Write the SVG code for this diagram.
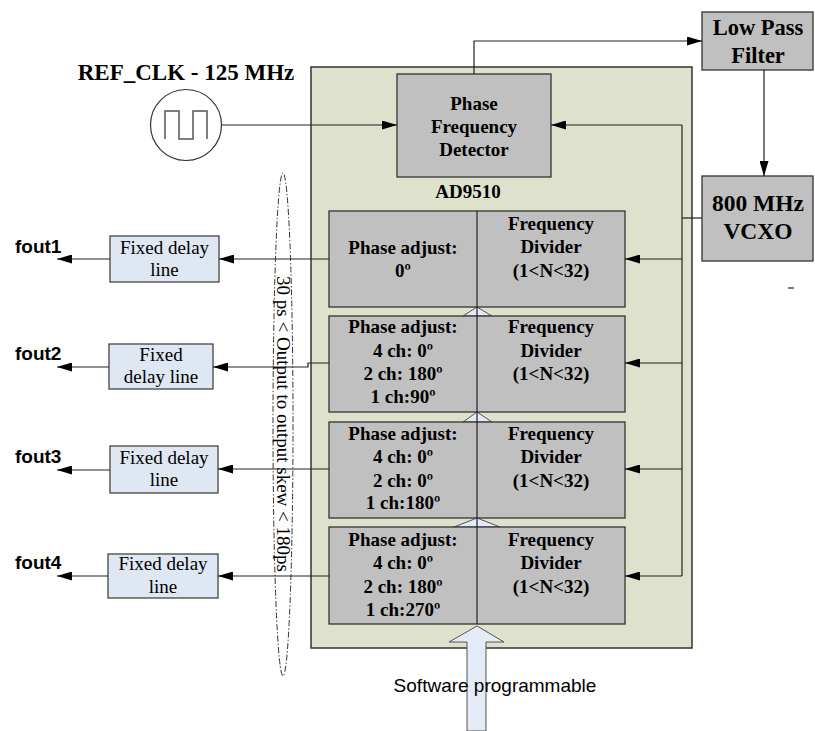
<svg xmlns="http://www.w3.org/2000/svg" width="815" height="731" viewBox="0 0 815 731">
<defs>
<marker id="ah" viewBox="0 0 15 9" refX="15" refY="4.5" markerWidth="15" markerHeight="9" orient="auto" markerUnits="userSpaceOnUse"><path d="M0,0 L15,4.5 L0,9 z" fill="#000"/></marker>
<style>
.gray{fill:#c0c0c0;stroke:#333;stroke-width:1.3}
.fdl{fill:#dfe7f3;stroke:#444;stroke-width:1.3}
.ln{fill:none;stroke:#222;stroke-width:1.2}
.arr{fill:none;stroke:#222;stroke-width:1.2;marker-end:url(#ah)}
.bs{font-family:"Liberation Serif","Times New Roman",serif;font-weight:bold;text-anchor:middle;fill:#000}
.rs{font-family:"Liberation Serif","Times New Roman",serif;text-anchor:middle;fill:#000}
.sans{font-family:"Liberation Sans",Arial,sans-serif;fill:#000}
.tri{fill:#e4ebf6;stroke:#555;stroke-width:1}
</style>
</defs>
<rect width="815" height="731" fill="#fff"/>

<g id="ad9510">
<rect x="311" y="67" width="381" height="581" fill="#dee1cb" stroke="#333" stroke-width="1.5"/>
<text class="bs" x="468" y="198" font-size="19">AD9510</text>
</g>

<g id="sw-arrow">
<polygon class="tri" points="467,731 467,642 449,642 477,626 504,642 486,642 486,731"/>
<polygon class="tri" points="463,316 477,307 492,316"/>
<polygon class="tri" points="463,422 477,412 492,422"/>
<polygon class="tri" points="454,527 477,518 500,527"/>
<text class="sans" x="495" y="692" font-size="19" text-anchor="middle">Software programmable</text>
</g>

<g id="refclk">
<text class="bs" x="186" y="80" font-size="23">REF_CLK - 125 MHz</text>
<circle cx="186" cy="125" r="35.5" fill="#fff" stroke="#333" stroke-width="1.2"/>
<path d="M165,139 V111 H179 V139 H193 V111 H207 V139" fill="none" stroke="#555" stroke-width="1.5"/>
</g>

<g id="pfd">
<rect class="gray" x="397" y="74" width="154" height="103"/>
<text class="bs" x="474" y="110" font-size="19">Phase</text>
<text class="bs" x="474" y="133" font-size="19">Frequency</text>
<text class="bs" x="474" y="156" font-size="19">Detector</text>
</g>

<g id="lpf">
<rect class="gray" x="702" y="12" width="111" height="58"/>
<text class="bs" x="758" y="35" font-size="22.5">Low Pass</text>
<text class="bs" x="758" y="63" font-size="22.5">Filter</text>
</g>

<g id="vcxo">
<rect class="gray" x="702" y="176" width="111" height="85"/>
<text class="bs" x="758" y="211" font-size="23.5">800 MHz</text>
<text class="bs" x="758" y="239" font-size="23.5">VCXO</text>
</g>

<g id="ch1">
<rect class="gray" x="329" y="211" width="296" height="96"/>
<text class="bs" x="403" y="254" font-size="19">Phase adjust:</text>
<text class="bs" x="403" y="277" font-size="19">0º</text>
<text class="bs" x="551" y="230" font-size="19">Frequency</text>
<text class="bs" x="551" y="253" font-size="19">Divider</text>
<text class="bs" x="551" y="277" font-size="19">(1&lt;N&lt;32)</text>
</g>
<g id="ch2">
<rect class="gray" x="329" y="316" width="296" height="96"/>
<text class="bs" x="403" y="333" font-size="19">Phase adjust:</text>
<text class="bs" x="403" y="357" font-size="19">4 ch: 0º</text>
<text class="bs" x="403" y="380" font-size="19">2 ch: 180º</text>
<text class="bs" x="403" y="403" font-size="19">1 ch:90º</text>
<text class="bs" x="551" y="333" font-size="19">Frequency</text>
<text class="bs" x="551" y="357" font-size="19">Divider</text>
<text class="bs" x="551" y="380" font-size="19">(1&lt;N&lt;32)</text>
</g>
<g id="ch3">
<rect class="gray" x="329" y="422" width="296" height="96"/>
<text class="bs" x="403" y="440" font-size="19">Phase adjust:</text>
<text class="bs" x="403" y="463" font-size="19">4 ch: 0º</text>
<text class="bs" x="403" y="487" font-size="19">2 ch: 0º</text>
<text class="bs" x="403" y="509" font-size="19">1 ch:180º</text>
<text class="bs" x="551" y="440" font-size="19">Frequency</text>
<text class="bs" x="551" y="463" font-size="19">Divider</text>
<text class="bs" x="551" y="487" font-size="19">(1&lt;N&lt;32)</text>
</g>
<g id="ch4">
<rect class="gray" x="329" y="527" width="296" height="97"/>
<text class="bs" x="403" y="546" font-size="19">Phase adjust:</text>
<text class="bs" x="403" y="569" font-size="19">4 ch: 0º</text>
<text class="bs" x="403" y="593" font-size="19">2 ch: 180º</text>
<text class="bs" x="403" y="616" font-size="19">1 ch:270º</text>
<text class="bs" x="551" y="546" font-size="19">Frequency</text>
<text class="bs" x="551" y="569" font-size="19">Divider</text>
<text class="bs" x="551" y="593" font-size="19">(1&lt;N&lt;32)</text>
</g>
<line x1="477" y1="211" x2="477" y2="624" stroke="#222" stroke-width="1.2"/>

<g id="fdl1">
<rect class="fdl" x="110" y="236" width="109" height="46"/>
<text class="rs" x="164.5" y="254" font-size="19">Fixed delay</text>
<text class="rs" x="164.5" y="276" font-size="19">line</text>
</g>
<g id="fdl2">
<rect class="fdl" x="109" y="344" width="104" height="45"/>
<text class="rs" x="161" y="361" font-size="19">Fixed</text>
<text class="rs" x="161" y="383" font-size="19">delay line</text>
</g>
<g id="fdl3">
<rect class="fdl" x="110" y="446" width="108" height="47"/>
<text class="rs" x="164" y="464" font-size="19">Fixed delay</text>
<text class="rs" x="164" y="486" font-size="19">line</text>
</g>
<g id="fdl4">
<rect class="fdl" x="108" y="554" width="110" height="44"/>
<text class="rs" x="163" y="570" font-size="19">Fixed delay</text>
<text class="rs" x="163" y="593" font-size="19">line</text>
</g>

<g id="fout-labels" class="sans" font-weight="bold" font-size="19">
<text x="15" y="253">fout1</text>
<text x="15" y="360">fout2</text>
<text x="15" y="463">fout3</text>
<text x="15" y="569">fout4</text>
</g>

<g id="skew">
<ellipse cx="283" cy="424.5" rx="10" ry="251.5" fill="none" stroke="#333" stroke-width="1" stroke-dasharray="6,2,1.5,2"/>
<text class="rs" font-size="19" transform="translate(277,424) rotate(90)">30 ps &lt; Output to output skew &lt; 180ps</text>
</g>

<g id="connectors">
<path class="arr" d="M222,125 H397"/>
<path class="arr" d="M474,74 V41 H702"/>
<path class="arr" d="M764,70 V176"/>
<path class="ln" d="M702,218 H682"/>
<path class="ln" d="M682,125 V576"/>
<path class="arr" d="M682,125 H551"/>
<path class="arr" d="M682,259 H625"/>
<path class="arr" d="M682,363 H625"/>
<path class="arr" d="M682,469 H625"/>
<path class="arr" d="M682,576 H625"/>
<path class="arr" d="M329,259 H219"/>
<path class="arr" d="M329,363 H308 V367 H213"/>
<path class="arr" d="M329,469 H218"/>
<path class="arr" d="M329,576 H218"/>
<path class="arr" d="M110,259 H57"/>
<path class="arr" d="M109,367 H57"/>
<path class="arr" d="M110,470 H57"/>
<path class="arr" d="M108,576 H57"/>
</g>
<line x1="788" y1="288" x2="794" y2="288" stroke="#222" stroke-width="1.2"/>
</svg>
